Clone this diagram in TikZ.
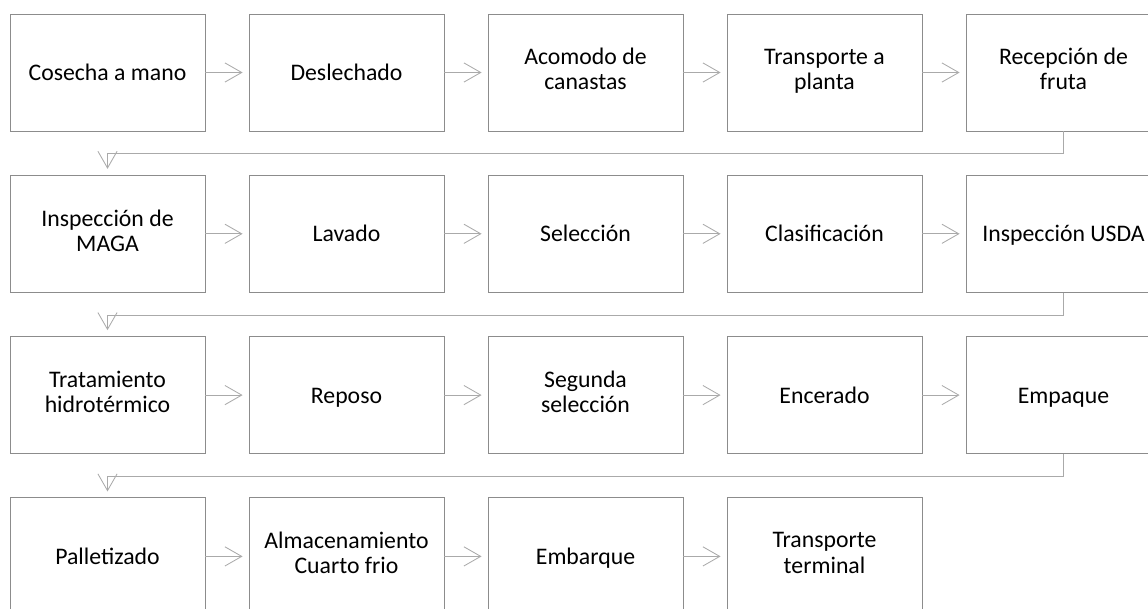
\documentclass[tikz,border=0pt]{standalone}
\usepackage{fontspec}
\setmainfont{Carlito}
\usetikzlibrary{arrows.meta}
\definecolor{boxgray}{RGB}{140,140,140}
\definecolor{linkgray}{RGB}{170,170,170}
\newcommand\vstrut{\rule[-5pt]{0pt}{21.4pt}}

\begin{document}
\begin{tikzpicture}[
    stagebox/.style={draw=boxgray, line width=0.6pt, minimum width=4.875cm,
        minimum height=2.925cm, inner sep=0pt, align=center,
        font=\fontsize{16.9pt}{17.8pt}\selectfont,
        execute at begin node=\vstrut, execute at end node=\vstrut},
    link/.style={draw=linkgray, line width=0.6pt,
        -{Straight Barb[length=0.42cm, width=0.48cm]}, shorten >=0.15cm}
]
\clip (0,0) rectangle (28.7,-15.225);
% first row
\node[stagebox] (cosecha)    at (2.6875,-1.8125)  {Cosecha a mano};
\node[stagebox] (deslechado) at (8.6625,-1.8125)  {Deslechado};
\node[stagebox] (acomodo)    at (14.6375,-1.8125) {Acomodo de\\canastas};
\node[stagebox] (transporte) at (20.6125,-1.8125) {Transporte a\\planta};
\node[stagebox] (recepcion)  at (26.5875,-1.8125) {Recepción de\\fruta};
% second row
\node[stagebox] (inspmaga)   at (2.6875,-5.845)   {Inspección de\\MAGA};
\node[stagebox] (lavado)     at (8.6625,-5.845)   {Lavado};
\node[stagebox] (seleccion)  at (14.6375,-5.845)  {Selección};
\node[stagebox] (clasif)     at (20.6125,-5.845)  {Clasificación};
\node[stagebox] (inspusda)   at (26.5875,-5.845)  {Inspección USDA};
% third row
\node[stagebox] (tratamiento) at (2.6875,-9.8775)  {Tratamiento\\hidrotérmico};
\node[stagebox] (reposo)      at (8.6625,-9.8775)  {Reposo};
\node[stagebox] (segunda)     at (14.6375,-9.8775) {Segunda\\selección};
\node[stagebox] (encerado)    at (20.6125,-9.8775) {Encerado};
\node[stagebox] (empaque)     at (26.5875,-9.8775) {Empaque};
% fourth row
\node[stagebox] (palletizado) at (2.6875,-13.91)  {Palletizado};
\node[stagebox] (almacen)     at (8.6625,-13.91)  {Almacenamiento\\Cuarto frio};
\node[stagebox] (embarque)    at (14.6375,-13.91) {Embarque};
\node[stagebox] (transterm)   at (20.6125,-13.91) {Transporte\\terminal};

\draw[link] (cosecha) -- (deslechado);
\draw[link] (deslechado) -- (acomodo);
\draw[link] (acomodo) -- (transporte);
\draw[link] (transporte) -- (recepcion);
\draw[link] (recepcion.south) -- ++(0,-0.5625) -| (inspmaga.north);
\draw[link] (inspmaga) -- (lavado);
\draw[link] (lavado) -- (seleccion);
\draw[link] (seleccion) -- (clasif);
\draw[link] (clasif) -- (inspusda);
\draw[link] (inspusda.south) -- ++(0,-0.5625) -| (tratamiento.north);
\draw[link] (tratamiento) -- (reposo);
\draw[link] (reposo) -- (segunda);
\draw[link] (segunda) -- (encerado);
\draw[link] (encerado) -- (empaque);
\draw[link] (empaque.south) -- ++(0,-0.5625) -| (palletizado.north);
\draw[link] (palletizado) -- (almacen);
\draw[link] (almacen) -- (embarque);
\draw[link] (embarque) -- (transterm);
\end{tikzpicture}
\end{document}
